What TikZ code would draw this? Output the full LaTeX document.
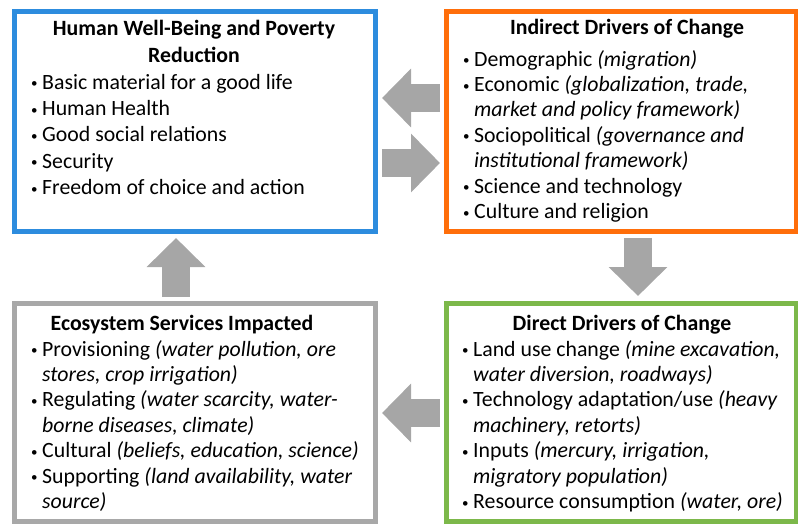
\documentclass[tikz,border=0pt]{standalone}
\usepackage{fontspec}
\setmainfont{Carlito}
\usetikzlibrary{arrows.meta, positioning, calc}

\definecolor{wbblue}{RGB}{45,140,222}
\definecolor{idorange}{RGB}{255,110,10}
\definecolor{ddgreen}{RGB}{124,184,74}
\definecolor{esgray}{RGB}{168,168,168}
\definecolor{flowgray}{RGB}{166,166,166}

\newcommand{\bul}{\makebox[12pt][l]{\hspace{1pt}\raisebox{1.5pt}{\fontsize{13}{13}\selectfont\textbullet}}}
\newcommand{\ind}{\hspace*{12pt}}

\tikzset{
  frame/.style={rectangle, line width=5pt, fill=white, minimum width=361pt, minimum height=219pt},
  heading/.style={font=\fontsize{21.8}{27.5}\selectfont\bfseries, align=center, inner sep=0pt},
  bullets/.style={font=\fontsize{21.8}{25.4}\selectfont, align=left, anchor=north west, inner sep=0pt},
  flow/.style={draw=flowgray, line width=28pt, -{Triangle[length=29pt, width=57pt]}},
}

\begin{document}
\begin{tikzpicture}[x=1pt, y=-1pt]
    \useasboundingbox (0,0) rectangle (798,524);

    % Riquadri
    \node[frame, draw=wbblue] (wellbeing) at (194.5,121.5) {};
    \node[frame, draw=idorange, minimum width=350pt] (indirect) at (621,121.5) {};
    \node[frame, draw=esgray, minimum height=218pt] (impacts) at (194.5,412) {};
    \node[frame, draw=ddgreen, minimum width=350pt, minimum height=218pt] (direct) at (621,412) {};

    % Human well-being
    \node[heading, anchor=north] at (194,20) {Human Well-Being and Poverty\\Reduction};
    \node[bullets, font=\fontsize{21.8}{26.3}\selectfont] at (30,74) {
        \bul Basic material for a good life\\
        \bul Human Health\\
        \bul Good social relations\\
        \bul Security\\
        \bul Freedom of choice and action
    };

    % Indirect drivers
    \node[heading, anchor=north] at (627,19) {Indirect Drivers of Change};
    \node[bullets] at (462,50) {
        \bul Demographic \textit{(migration)}\\
        \bul Economic \textit{(globalization, trade,}\\
        \ind \textit{market and policy framework)}\\
        \bul Sociopolitical \textit{(governance and}\\
        \ind \textit{institutional framework)}\\
        \bul Science and technology\\
        \bul Culture and religion
    };

    % Ecosystem services
    \node[heading, anchor=north] at (182,315) {Ecosystem Services Impacted};
    \node[bullets] at (30,340) {
        \bul Provisioning \textit{(water pollution, ore}\\
        \ind \textit{stores, crop irrigation)}\\
        \bul Regulating \textit{(water scarcity, water-}\\
        \ind \textit{borne diseases, climate)}\\
        \bul Cultural \textit{(beliefs, education, science)}\\
        \bul Supporting \textit{(land availability, water}\\
        \ind \textit{source)}
    };

    % Direct drivers
    \node[heading, anchor=north] at (622,315) {Direct Drivers of Change};
    \node[bullets] at (461,340) {
        \bul Land use change \textit{(mine excavation,}\\
        \ind \textit{water diversion, roadways)}\\
        \bul Technology adaptation/use \textit{(heavy}\\
        \ind \textit{machinery, retorts)}\\
        \bul Inputs \textit{(mercury, irrigation,}\\
        \ind \textit{migratory population)}\\
        \bul Resource consumption \textit{(water, ore)}
    };

    % Frecce
    \draw[flow] ([xshift=-3.5pt,yshift=23.5pt]indirect.west) -- ([xshift=4.5pt,yshift=23.5pt]wellbeing.east);
    \draw[flow] ([xshift=4.5pt,yshift=-41.5pt]wellbeing.east) -- ([xshift=-3.5pt,yshift=-41.5pt]indirect.west);
    \draw[flow] ([xshift=17pt,yshift=-4.5pt]indirect.south) -- ([xshift=17pt,yshift=4.5pt]direct.north);
    \draw[flow] ([xshift=-3.5pt,yshift=-1pt]direct.west) -- ([xshift=4.5pt,yshift=-1pt]impacts.east);
    \draw[flow] ([xshift=-18.5pt,yshift=3.5pt]impacts.north) -- ([xshift=-18.5pt,yshift=-4.5pt]wellbeing.south);
\end{tikzpicture}
\end{document}
